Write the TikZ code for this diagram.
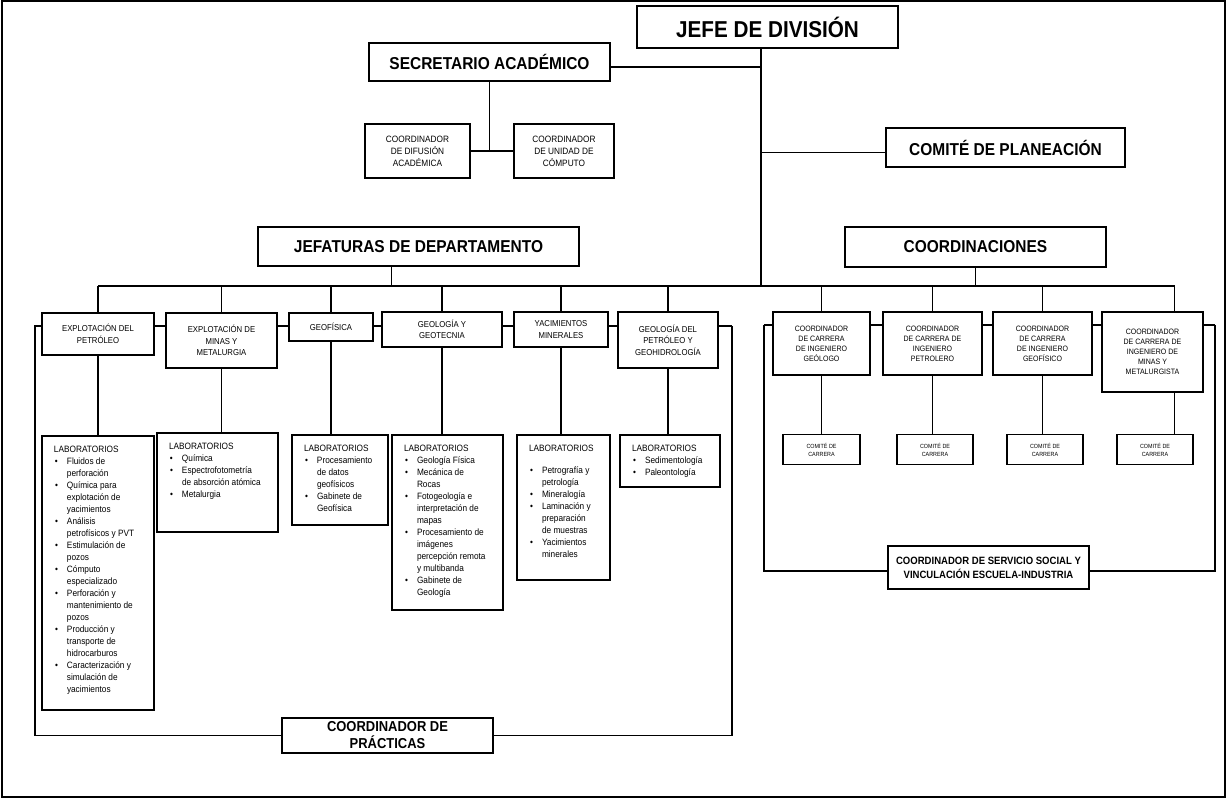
\documentclass[tikz,border=0pt]{standalone}
\usepackage{fontspec}
\setmainfont{Liberation Sans}[FakeStretch=0.9]
\usetikzlibrary{calc}
\pgfdeclarelayer{bg}
\pgfsetlayers{bg,main}

% bullet and hanging indent for the laboratory lists
\newcommand{\bul}{\makebox[6.5pt][l]{\hspace{0.5pt}\textbullet}}
\newcommand{\ind}{\hspace*{6.5pt}}
% top-aligned list inside a box of #1 x #2 units
\newcommand{\labtext}[3]{\parbox[c][\dimexpr 0.5pt*#2-10pt\relax][t]{\dimexpr 0.5pt*#1-12pt\relax}{\raggedright\fontsize{4.6}{6}\selectfont #3}}

\tikzset{
  box/.style={draw, line width=0.9pt, fill=white, align=center, inner sep=1pt},
  wh/.style 2 args={minimum width=#1*0.5pt, minimum height=#2*0.5pt},
  head/.style={box, font=\bfseries\fontsize{8.6}{10}\selectfont},
  dept/.style={box, font=\fontsize{4.3}{5.8}\selectfont},
  coord/.style={box, font=\fontsize{3.9}{5}\selectfont},
  comm/.style={box, font=\fontsize{3}{4}\selectfont},
  labbox/.style={draw, line width=0.9pt, fill=white, inner xsep=6pt, inner ysep=5pt},
  link/.style={line width=0.8pt},
}

\begin{document}
\begin{tikzpicture}[x=0.5pt, y=-0.5pt]
\useasboundingbox (0,0) rectangle (1227,801);
\draw[line width=1pt] (2,1) rectangle (1225,797);

% top level
\node[box, wh={261}{42}, font=\bfseries\fontsize{11.5}{13}\selectfont] (jefe) at (767.5,27) {JEFE DE DIVISIÓN};
\node[head, wh={241}{38}] (secre) at (489.5,62) {SECRETARIO ACADÉMICO};
\node[box, wh={105}{54}, font=\fontsize{4.6}{6}\selectfont] (difus) at (417.5,151) {COORDINADOR\\DE DIFUSIÓN\\ACADÉMICA};
\node[box, wh={100}{54}, font=\fontsize{4.6}{6}\selectfont] (compu) at (564,151) {COORDINADOR\\DE UNIDAD DE\\CÓMPUTO};
\node[head, wh={239}{39}] (comite) at (1005.5,147.5) {COMITÉ DE PLANEACIÓN};
\node[head, wh={321}{39}] (jefat) at (418.5,246.5) {JEFATURAS DE DEPARTAMENTO};
\node[head, wh={261}{40}] (coordin) at (975.5,247) {COORDINACIONES};

% departments
\node[dept, wh={112}{42}] (d1) at (98,334) {EXPLOTACIÓN DEL\\PETRÓLEO};
\node[dept, wh={111}{55}] (d2) at (221.5,340.5) {EXPLOTACIÓN DE\\MINAS Y\\METALURGIA};
\node[dept, wh={84}{28}] (d3) at (331,327) {GEOFÍSICA};
\node[dept, wh={120}{35}] (d4) at (442,329.5) {GEOLOGÍA Y\\GEOTECNIA};
\node[dept, wh={94}{35}] (d5) at (561,329.5) {YACIMIENTOS\\MINERALES};
\node[dept, wh={100}{56}] (d6) at (668,340) {GEOLOGÍA DEL\\PETRÓLEO Y\\GEOHIDROLOGÍA};

% career coordinators
\node[coord, wh={97}{63}] (c1) at (821.5,343.5) {COORDINADOR\\DE CARRERA\\DE INGENIERO\\GEÓLOGO};
\node[coord, wh={99}{63}] (c2) at (932.5,343.5) {COORDINADOR\\DE CARRERA DE\\INGENIERO\\PETROLERO};
\node[coord, wh={99}{63}] (c3) at (1042.5,343.5) {COORDINADOR\\DE CARRERA\\DE INGENIERO\\GEOFÍSICO};
\node[coord, wh={101}{80}] (c4) at (1152.5,352) {COORDINADOR\\DE CARRERA DE\\INGENIERO DE\\MINAS Y\\METALURGISTA};

% career committees
\node[comm, wh={77}{30}] (k1) at (821.5,449.5) {COMITÉ DE\\CARRERA};
\node[comm, wh={76}{30}] (k2) at (935,449.5) {COMITÉ DE\\CARRERA};
\node[comm, wh={76}{30}] (k3) at (1045,449.5) {COMITÉ DE\\CARRERA};
\node[comm, wh={76}{30}] (k4) at (1155,449.5) {COMITÉ DE\\CARRERA};

% laboratories
\node[labbox] (l1) at (98,573) {\labtext{112}{274}{LABORATORIOS\\
\bul Fluidos de\\ \ind perforación\\
\bul Química para\\ \ind explotación de\\ \ind yacimientos\\
\bul Análisis\\ \ind petrofísicos y PVT\\
\bul Estimulación de\\ \ind pozos\\
\bul Cómputo\\ \ind especializado\\
\bul Perforación y\\ \ind mantenimiento de\\ \ind pozos\\
\bul Producción y\\ \ind transporte de\\ \ind hidrocarburos\\
\bul Caracterización y\\ \ind simulación de\\ \ind yacimientos}};
\node[labbox] (l2) at (217.5,482.5) {\labtext{121}{99}{LABORATORIOS\\
\bul Química\\
\bul Espectrofotometría\\ \ind de absorción atómica\\
\bul Metalurgia}};
\node[labbox] (l3) at (340,480) {\labtext{96}{90}{LABORATORIOS\\
\bul Procesamiento\\ \ind de datos\\ \ind geofísicos\\
\bul Gabinete de\\ \ind Geofísica}};
\node[labbox] (l4) at (447.5,522.5) {\labtext{111}{175}{LABORATORIOS\\
\bul Geología Física\\
\bul Mecánica de\\ \ind Rocas\\
\bul Fotogeología e\\ \ind interpretación de\\ \ind mapas\\
\bul Procesamiento de\\ \ind imágenes\\ \ind percepción remota\\ \ind y multibanda\\
\bul Gabinete de\\ \ind Geología}};
\node[labbox] (l5) at (563.5,507.5) {\labtext{93}{145}{LABORATORIOS\\[5pt]
\bul Petrografía y\\ \ind petrología\\
\bul Mineralogía\\
\bul Laminación y\\ \ind preparación\\ \ind de muestras\\
\bul Yacimientos\\ \ind minerales}};
\node[labbox] (l6) at (670,461) {\labtext{100}{52}{LABORATORIOS\\
\bul Sedimentología\\
\bul Paleontología}};

% bottom coordinators
\node[box, wh={211}{35}, font=\bfseries\fontsize{7.2}{8.5}\selectfont] (prac) at (387.5,735.5) {COORDINADOR DE\\PRÁCTICAS};
\node[box, wh={201}{43}, font=\bfseries\fontsize{5.3}{7}\selectfont] (serv) at (988.5,567.5) {COORDINADOR DE SERVICIO SOCIAL Y\\VINCULACIÓN ESCUELA-INDUSTRIA};

\begin{pgfonlayer}{bg}
\coordinate (bus) at (761,286);
\coordinate (c4u) at ([shift={(22,0)}]c4.north);
\coordinate (c4d) at ([shift={(22,0)}]c4.south);
\coordinate (jd) at ([shift={(-27,0)}]jefat.south);
\coordinate (se) at ([shift={(0,5)}]secre.east);
\coordinate (cw) at ([shift={(0,5)}]comite.west);
% trunk and side branches
\draw[link] (jefe.south -| bus) -- (bus);
\draw[link] (se) -- (se -| bus);
\draw[link] (cw) -- (cw -| bus);
\draw[link] (secre.south) -- (secre.south |- difus.east);
\draw[link] (difus.east) -- (compu.west);
\draw[link] (jd) -- (jd |- bus);
\draw[link] (coordin.south) -- (coordin.south |- bus);
% main bus and drops
\draw[link] (d1.north |- bus) -- (c4u |- bus);
\foreach \n in {d1,d2,d3,d4,d5,d6,c1,c2,c3}
  \draw[link] (\n.north) -- (\n.north |- bus);
\draw[link] (c4u) -- (c4u |- bus);
\foreach \a/\b in {d1/l1,d2/l2,d3/l3,d4/l4,d5/l5,d6/l6,c1/k1,c2/k2,c3/k3}
  \draw[link] (\a.south) -- (\a.south |- \b.north);
\draw[link] (c4d) -- (c4d |- k4.north);
% practice coordination loop
\coordinate (pL) at (35,326);
\coordinate (pR) at (732,326);
\draw[link] (pR) -- (pL) -- (pL |- prac.west) -- (prac.west);
\draw[link] (pR) -- (pR |- prac.east) -- (prac.east);
% social service loop
\coordinate (sL) at (764,325);
\coordinate (sR) at (1215,325);
\coordinate (sy) at (988.5,571);
\draw[link] (sL) -- (sR);
\draw[link] (sL) -- (sL |- sy) -- (serv.west |- sy);
\draw[link] (sR) -- (sR |- sy) -- (serv.east |- sy);
\end{pgfonlayer}
\end{tikzpicture}
\end{document}
